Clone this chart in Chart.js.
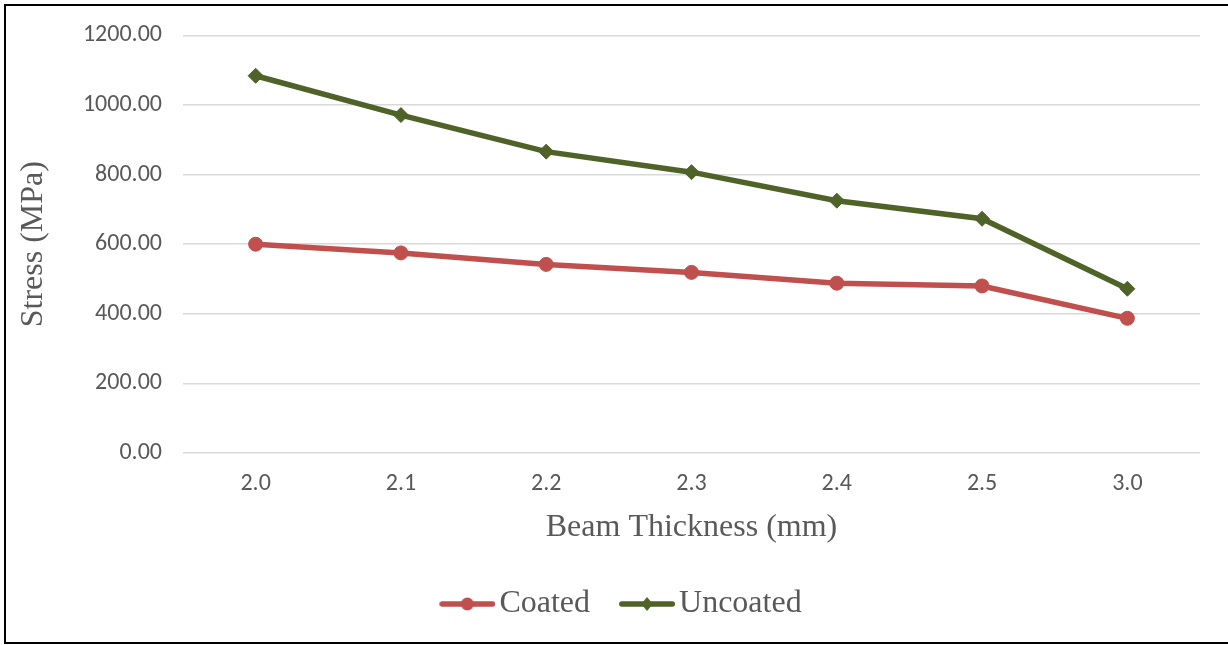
<!DOCTYPE html>
<html>
<head>
<meta charset="utf-8">
<script src="https://cdn.jsdelivr.net/npm/chart.js@4.4.1/dist/chart.umd.min.js"></script>
<style>
  html, body { margin: 0; padding: 0; background: #fff; overflow: hidden; }
  #wrap { position: relative; width: 1228px; height: 645px; }
  #frame { position: absolute; left: 4px; top: 4px; width: 1240px; height: 636px; border: 2px solid #000; pointer-events: none; }
</style>
</head>
<body>
<div id="wrap">
  <canvas id="stressChart" width="1228" height="645"></canvas>
  <div id="frame"></div>
</div>
<script>
const thickness = ["2.0", "2.1", "2.2", "2.3", "2.4", "2.5", "3.0"];
const coated = [600, 575, 542, 519, 488, 480, 387];
const uncoated = [1084, 971, 866, 807, 725, 673, 472];
const yTicks = [0, 200, 400, 600, 800, 1000, 1200];

const RED = "#C0504D";
const GREEN = "#4F6228";
const GREY = "#595959";
const SERIF = "'Liberation Serif', 'Times New Roman', serif";
const SANS = "Calibri, Carlito, 'Liberation Sans', sans-serif";

// legend picture: line with marker, drawn in the right 56px of a wider canvas
// so the gap to the text matches the spreadsheet legend
function legendIcon(color, marker) {
    const c = document.createElement("canvas");
    c.width = 95;
    c.height = 18;
    const ctx = c.getContext("2d");
    const x0 = 39 + 2.75, x1 = 95 - 2.75, mid = (x0 + x1) / 2;
    ctx.strokeStyle = color;
    ctx.fillStyle = color;
    ctx.lineWidth = 5.5;
    ctx.lineCap = "round";
    ctx.beginPath();
    ctx.moveTo(x0, 9);
    ctx.lineTo(x1, 9);
    ctx.stroke();
    ctx.beginPath();
    if (marker === "circle") {
        ctx.arc(mid, 9, 6.5, 0, Math.PI * 2);
    } else {
        ctx.moveTo(mid, 2);
        ctx.lineTo(mid + 5.8, 9);
        ctx.lineTo(mid, 16);
        ctx.lineTo(mid - 5.8, 9);
        ctx.closePath();
    }
    ctx.fill();
    return c;
}
const icons = [legendIcon(RED, "circle"), legendIcon(GREEN, "diamond")];

const canvas = document.getElementById("stressChart");

new Chart(canvas, {
    type: "line",
    data: {
        labels: thickness,
        datasets: [
            {
                label: "Coated",
                data: coated,
                borderColor: RED,
                backgroundColor: RED,
                borderWidth: 5.5,
                pointStyle: "circle",
                pointRadius: 7,
                pointBorderWidth: 1,
                tension: 0
            },
            {
                label: "Uncoated",
                data: uncoated,
                borderColor: GREEN,
                backgroundColor: GREEN,
                borderWidth: 5.5,
                pointStyle: "rectRot",
                pointRadius: 7.5,
                pointBorderWidth: 1,
                tension: 0
            }
        ]
    },
    options: {
        responsive: false,
        animation: false,
        layout: {
            padding: { top: 33.5, right: 28, left: 14, bottom: 15 }
        },
        plugins: {
            tooltip: { enabled: false },
            legend: {
                position: "bottom",
                labels: {
                    usePointStyle: true,
                    pointStyleWidth: 71,
                    padding: 2,
                    color: GREY,
                    font: { family: SERIF, size: 32 },
                    generateLabels(chart) {
                        const items = Chart.defaults.plugins.legend.labels.generateLabels(chart);
                        items.forEach((it, i) => { it.pointStyle = icons[i]; });
                        return items;
                    }
                }
            }
        },
        scales: {
            x: {
                offset: true,
                grid: { display: false, drawTicks: false },
                border: { display: false },
                ticks: {
                    color: GREY,
                    padding: 17,
                    font: { family: SANS, size: 24 }
                },
                title: {
                    display: true,
                    text: "Beam Thickness (mm)",
                    color: GREY,
                    padding: { top: 0, bottom: 39 },
                    font: { family: SERIF, size: 32 }
                },
                afterFit(scale) {
                    scale.height = 133;
                }
            },
            y: {
                min: 0,
                max: 1200,
                grid: { color: "#D9D9D9", lineWidth: 1.5, drawTicks: false },
                border: { display: false },
                afterBuildTicks(scale) {
                    scale.ticks = yTicks.map(v => ({ value: v }));
                },
                ticks: {
                    color: GREY,
                    padding: 21,
                    font: { family: SANS, size: 24 },
                    callback: v => Number(v).toFixed(2)
                },
                title: {
                    display: true,
                    text: "Stress (MPa)",
                    color: GREY,
                    padding: 0,
                    font: { family: SERIF, size: 32 }
                },
                afterFit(scale) {
                    scale.width = 169;
                }
            }
        }
    }
});
</script>
</body>
</html>
